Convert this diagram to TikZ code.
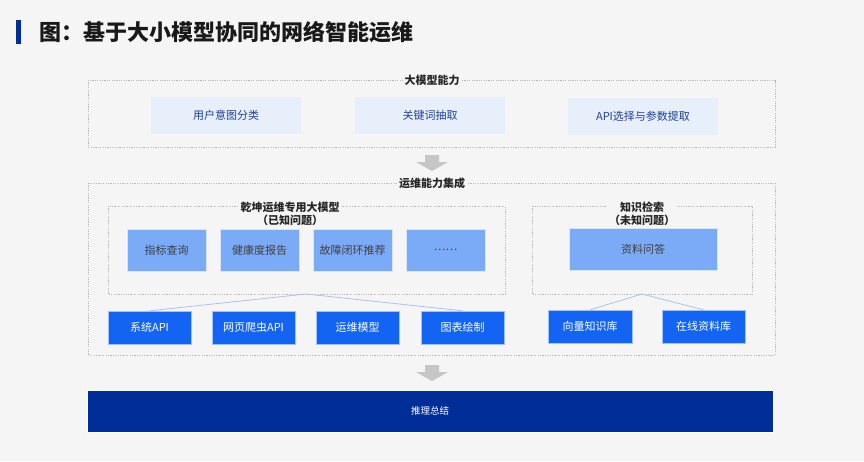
\documentclass[tikz,border=0pt]{standalone}
\usepackage{fontspec}
\setmainfont{Noto Sans CJK SC}
\begin{document}
\begin{tikzpicture}[x=1pt,y=-1pt,
 grp/.style={draw=gray!55,dashed,dash pattern=on 1.2pt off 1.2pt,line width=0.6pt},
 lbl/.style={fill=bgc,inner sep=2pt,font=\fontsize{11}{13}\selectfont\bfseries,text=black!85,align=center},
 lite/.style={fill=lb,text=tb,font=\fontsize{11}{13}\selectfont},
 mid/.style={fill=mb,draw=white!70!mb,text=black!75,font=\fontsize{11}{13}\selectfont},
 dark/.style={fill=db,draw=white!60!db,text=white,font=\fontsize{11}{13}\selectfont},
 conn/.style={draw=cl,line width=0.8pt},
 garr/.style={fill=gray!45,draw=none}]
\definecolor{bgc}{HTML}{F5F5F5}
\definecolor{lb}{HTML}{E7EFFA}
\definecolor{tb}{HTML}{1F3F9A}
\definecolor{mb}{HTML}{7BAAF7}
\definecolor{db}{HTML}{1464F4}
\definecolor{nv}{HTML}{002E99}
\definecolor{cl}{HTML}{A9C3EC}
\fill[bgc] (0,0) rectangle (864,461);
\useasboundingbox (0,0) rectangle (864,461);
\fill[nv] (16,20) rectangle (21,44);
\node[anchor=west,font=\fontsize{22}{26}\selectfont\bfseries,text=black!90] (title) at (36,32) {图：基于大小模型协同的网络智能运维};
% group 1
\draw[grp] (88,80) rectangle (775,147);
\node[lbl] (g1) at (432,80) {大模型能力};
\node[lite,minimum width=150pt,minimum height=37pt] (a1) at (226,115.5) {用户意图分类};
\node[lite,minimum width=150pt,minimum height=37pt] (a2) at (430,115.5) {关键词抽取};
\node[lite,minimum width=150pt,minimum height=37pt] (a3) at (643,116) {API选择与参数提取};
\fill[garr] (425,155) -- (439,155) -- (439,162) -- (448,162) -- (432,171) -- (416,162) -- (425,162) -- cycle;
% group 2
\draw[grp] (88,183) rectangle (775,355);
\node[lbl] (g2) at (432,183) {运维能力集成};
\draw[grp] (108,206) rectangle (505,294);
\node[lbl,font=\fontsize{11}{13.5}\selectfont\bfseries] (g3) at (290,214) {乾坤运维专用大模型\\（已知问题）};
\draw[grp] (532,206) rectangle (752,294);
\node[lbl,font=\fontsize{11}{13.5}\selectfont\bfseries] (g4) at (642,214) {知识检索\\（未知问题）};
\node[mid,minimum width=79pt,minimum height=42pt] (m1) at (166.5,250) {指标查询};
\node[mid,minimum width=79pt,minimum height=42pt] (m2) at (259.5,250) {健康度报告};
\node[mid,minimum width=79pt,minimum height=42pt] (m3) at (352.5,250) {故障闭环推荐};
\node[mid,minimum width=79pt,minimum height=42pt] (m4) at (445.5,250) {……};
\node[mid,minimum width=148pt,minimum height=42pt] (m5) at (643,249) {资料问答};
\node[dark,minimum width=83pt,minimum height=33pt] (b1) at (149.5,327.5) {系统API};
\node[dark,minimum width=83pt,minimum height=33pt] (b2) at (253.5,327.5) {网页爬虫API};
\node[dark,minimum width=83pt,minimum height=33pt] (b3) at (357.5,327.5) {运维模型};
\node[dark,minimum width=83pt,minimum height=33pt] (b4) at (462.5,327.5) {图表绘制};
\node[dark,minimum width=84pt,minimum height=33pt] (b5) at (590,326.5) {向量知识库};
\node[dark,minimum width=83pt,minimum height=33pt] (b6) at (703.5,326.5) {在线资料库};
\coordinate (p1) at (306,294);
\coordinate (p2) at (642,294);
\draw[conn] (b1.north) -- (p1) -- (b4.north);
\draw[conn] (b5.north) -- (p2) -- (b6.north);
\fill[garr] (425,365) -- (439,365) -- (439,372) -- (448,372) -- (432,381) -- (416,372) -- (425,372) -- cycle;
\node[fill=nv,draw=white,line width=0.8pt,minimum width=686pt,minimum height=42pt,text=white,font=\fontsize{9.5}{11}\selectfont] (r) at (430,411) {推理总结};
\end{tikzpicture}
\end{document}
